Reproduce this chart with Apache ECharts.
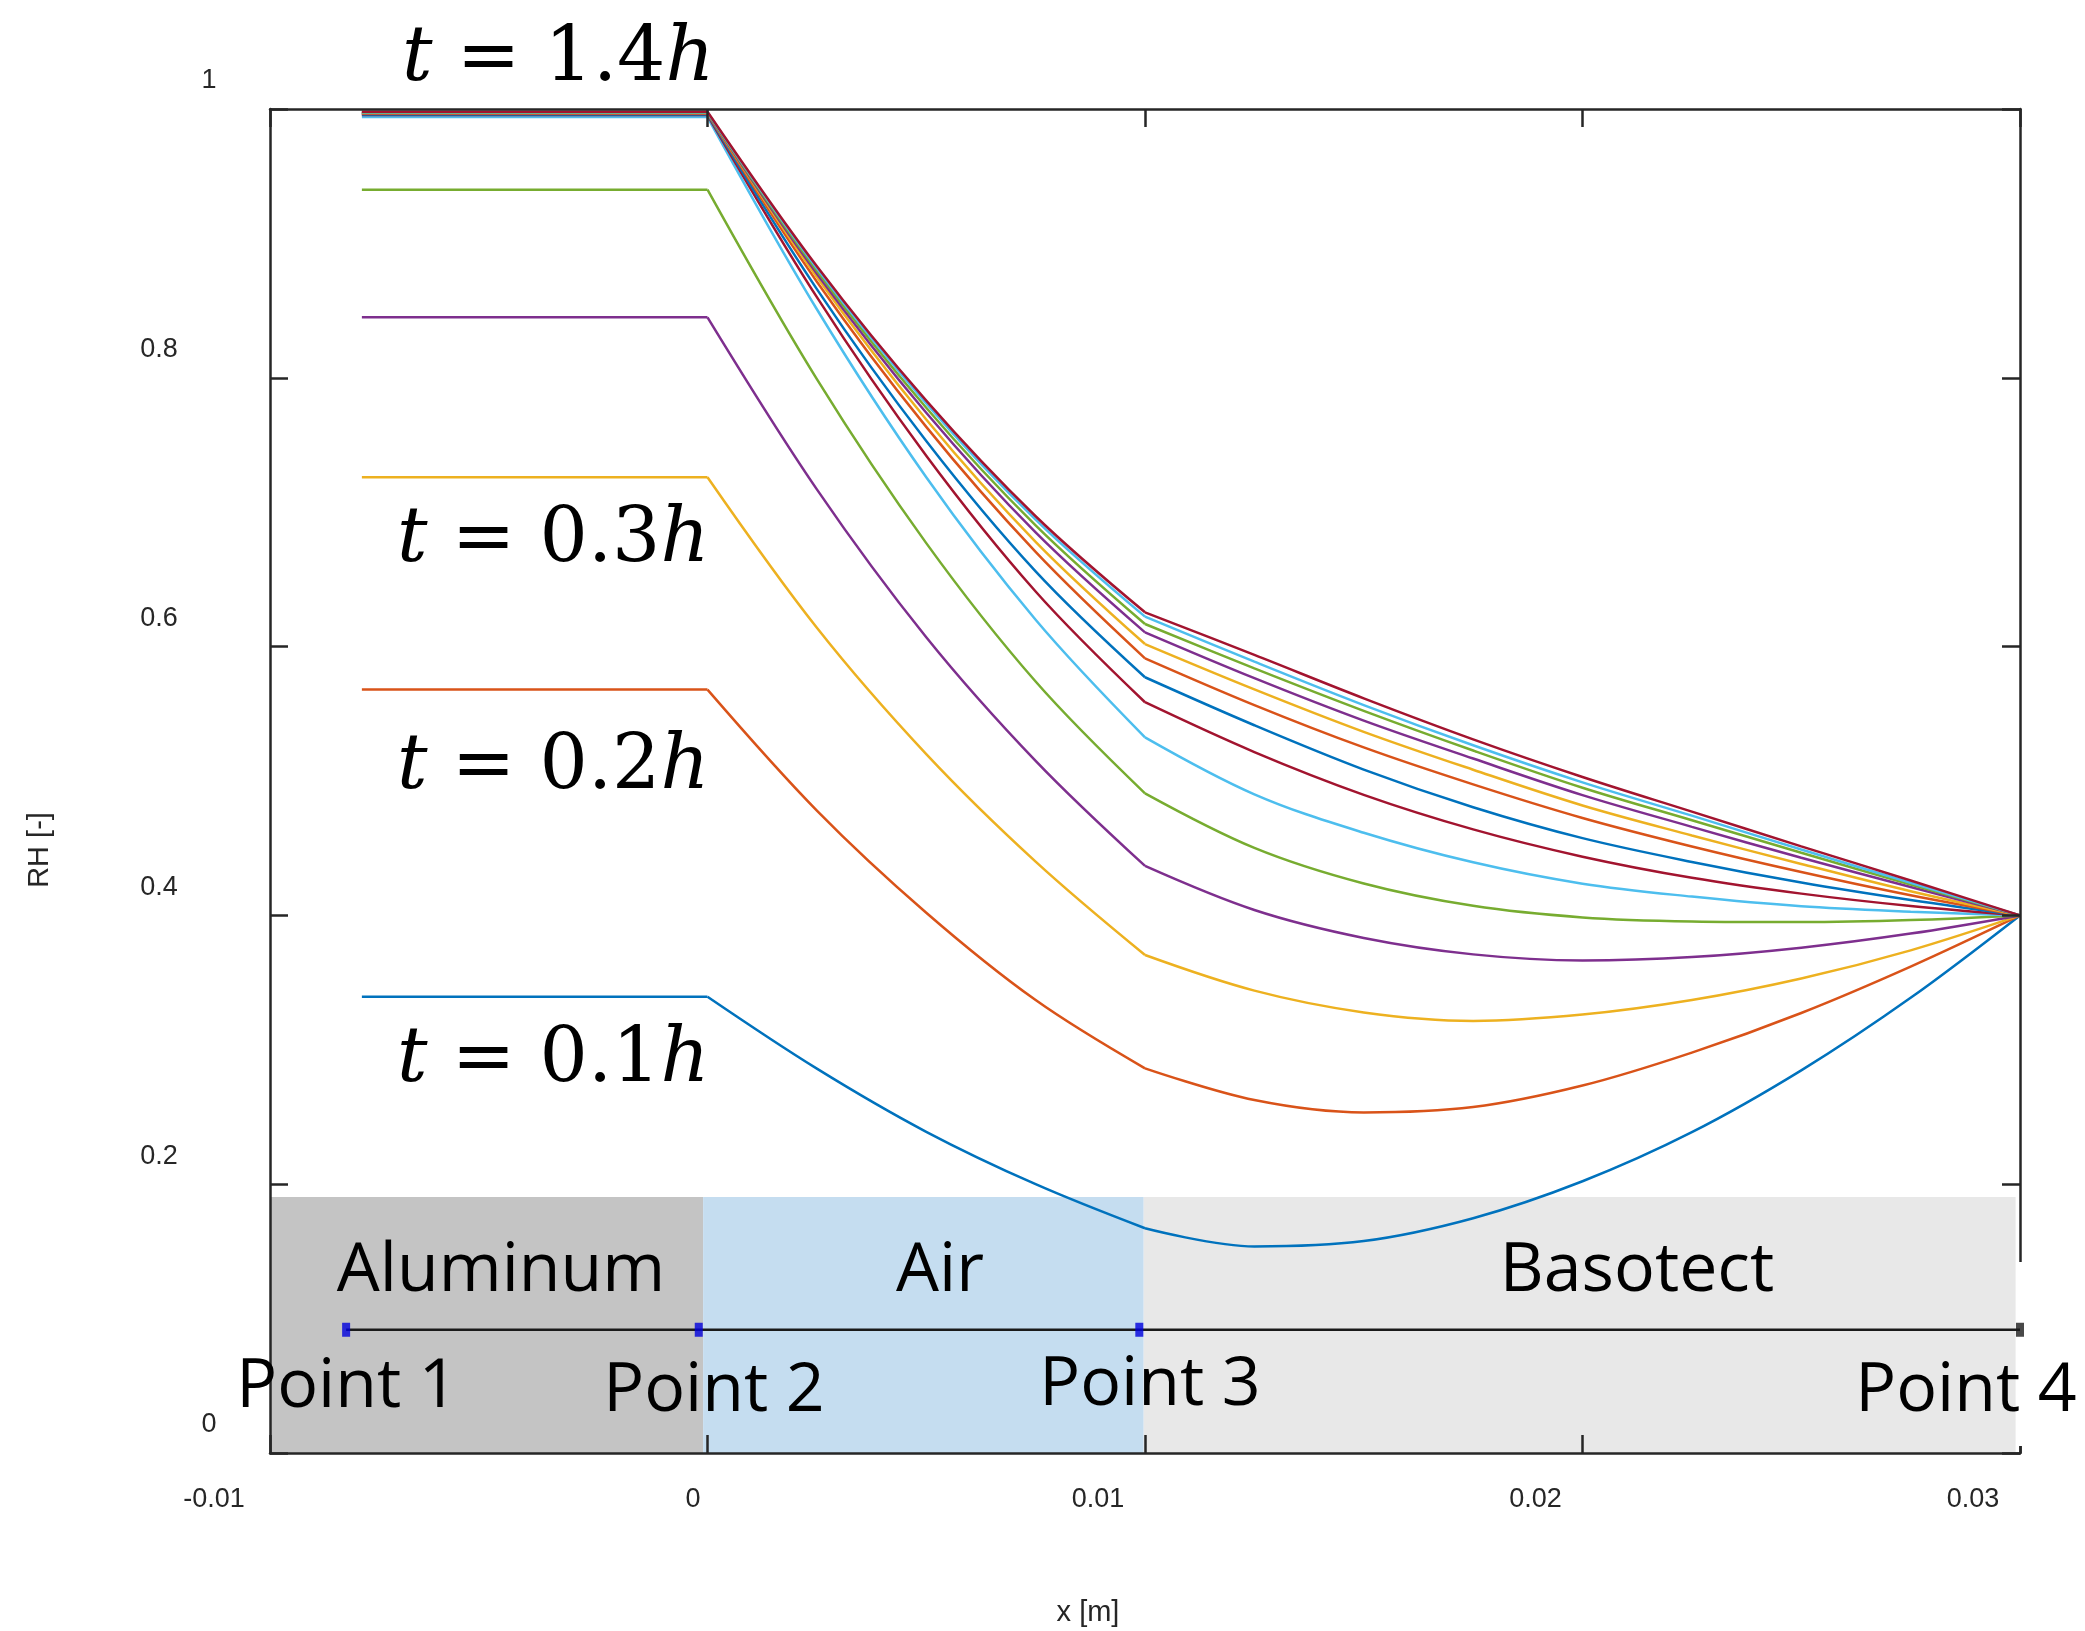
<!DOCTYPE html>
<html>
<head>
<meta charset="utf-8">
<script src="https://cdn.jsdelivr.net/npm/echarts@6/dist/echarts.min.js"></script>
<style>
  html, body { margin: 0; padding: 0; background: #fff; }
  #chart { width: 2085px; height: 1631px; }
</style>
</head>
<body>
<div id="chart"></div>
<script>
// time steps, one curve each
const times = ['0.1h', '0.2h', '0.3h', '0.4h', '0.5h', '0.6h', '0.7h',
               '0.8h', '0.9h', '1.0h', '1.1h', '1.2h', '1.3h', '1.4h'];
const lineColors = ['#0072BD', '#D95319', '#EDB120', '#7E2F8E', '#77AC30', '#4DBEEE', '#A2142F'];

// x positions [m]
const plateauX = [-0.0079, 0];
const airX = [0, 0.0025, 0.005, 0.0075, 0.01];
const basotectX = [0.01, 0.0125, 0.015, 0.0175, 0.02, 0.0225, 0.025, 0.0275, 0.03];

// RH in the air gap (first value is also the aluminum plateau)
const airRH = [
  [0.3395, 0.286, 0.239, 0.200, 0.1672],     // 0.1h
  [0.568, 0.478, 0.402, 0.337, 0.2862],      // 0.2h
  [0.726, 0.614, 0.520, 0.440, 0.3705],      // 0.3h
  [0.845, 0.717, 0.607, 0.515, 0.4368],      // 0.4h
  [0.940, 0.799, 0.677, 0.574, 0.4908],      // 0.5h
  [0.994, 0.851, 0.726, 0.620, 0.5325],      // 0.6h
  [0.9955, 0.860, 0.742, 0.641, 0.5586],     // 0.7h
  [0.996, 0.866, 0.753, 0.656, 0.5772],      // 0.8h
  [0.9965, 0.8715, 0.7635, 0.6705, 0.5913],  // 0.9h
  [0.997, 0.875, 0.769, 0.678, 0.6019],      // 1.0h
  [0.997, 0.8775, 0.774, 0.685, 0.6106],     // 1.1h
  [0.9972, 0.8797, 0.7777, 0.6902, 0.6168],  // 1.2h
  [0.9975, 0.8815, 0.781, 0.6945, 0.6223],   // 1.3h
  [0.998, 0.883, 0.783, 0.697, 0.6255]       // 1.4h
];

// RH in the basotect layer
const basotectRH = [
  [0.1672, 0.1537, 0.1577, 0.1747, 0.2022, 0.2387, 0.2847, 0.3387, 0.400],
  [0.2862, 0.2626, 0.2534, 0.2574, 0.2734, 0.2979, 0.3274, 0.3619, 0.400],
  [0.3705, 0.3440, 0.3278, 0.3215, 0.3262, 0.3370, 0.3530, 0.3740, 0.400],
  [0.4368, 0.4040, 0.3832, 0.3710, 0.3665, 0.3690, 0.3760, 0.3865, 0.400],
  [0.4908, 0.4502, 0.4237, 0.4071, 0.3985, 0.3955, 0.3950, 0.3965, 0.400],
  [0.5325, 0.4901, 0.4615, 0.4395, 0.4236, 0.4140, 0.4068, 0.4028, 0.400],
  [0.5586, 0.5215, 0.4897, 0.4640, 0.4437, 0.4280, 0.4162, 0.4070, 0.400],
  [0.5772, 0.5415, 0.5085, 0.4805, 0.4575, 0.4398, 0.4245, 0.4115, 0.400],
  [0.5913, 0.5565, 0.5250, 0.4975, 0.4725, 0.4513, 0.4323, 0.4150, 0.400],
  [0.6019, 0.5682, 0.5366, 0.5084, 0.4818, 0.4595, 0.4383, 0.4180, 0.400],
  [0.6106, 0.5765, 0.5449, 0.5167, 0.4895, 0.4659, 0.4429, 0.4211, 0.400],
  [0.6168, 0.5838, 0.5522, 0.5227, 0.4950, 0.4708, 0.4466, 0.4230, 0.400],
  [0.6223, 0.5888, 0.5565, 0.5266, 0.4990, 0.4742, 0.4490, 0.4243, 0.400],
  [0.6255, 0.5938, 0.5615, 0.5310, 0.5030, 0.4772, 0.4514, 0.4260, 0.400]
];

// material layers (shaded band at the bottom)
const layerNames = ['Aluminum', 'Air', 'Basotect'];
const layerEdges = [-0.01, -0.0001, 0.00997, 0.0299];
const layerColors = ['#c4c4c4', '#c5ddf0', '#e8e8e8'];
const bandY = [-0.0045, 0.1905];

// probe points
const pointNames = ['Point 1', 'Point 2', 'Point 3', 'Point 4'];
const pointX = [-0.00826, -0.0002, 0.00987, 0.030];
const pointY = 0.0917;

// axis ticks
const xMin = -0.01, xMax = 0.03, xStep = 0.01;
const yMin = 0, yMax = 1, yStep = 0.2;

const axisColor = '#262626';
const tickFont = 'Liberation Sans, Arial, sans-serif';

const chart = echarts.init(document.getElementById('chart'));

function fmt(v) { return String(+v.toFixed(2)); }

function frameAxis(extra) {
  return Object.assign({
    type: 'value',
    gridIndex: 0,
    axisLine: { show: true, onZero: false, lineStyle: { color: axisColor, width: 2.5 } },
    axisTick: { show: true, inside: true, length: 18, lineStyle: { color: axisColor, width: 2.5 } },
    axisLabel: { show: false },
    splitLine: { show: false },
    z: 5
  }, extra);
}

const labelStyle = { fontSize: 27, fontFamily: tickFont, color: axisColor };

const series = [];

// shaded layers + air boundary stripe
series.push({
  type: 'line',
  xAxisIndex: 0, yAxisIndex: 0,
  data: [],
  clip: false,
  z: 1,
  silent: true,
  markArea: {
    silent: true,
    data: layerNames.map((n, i) => [
      { xAxis: layerEdges[i], yAxis: bandY[0], itemStyle: { color: layerColors[i], opacity: 1 } },
      { xAxis: layerEdges[i + 1], yAxis: bandY[1] }
    ])
  },
  markLine: {
    silent: true,
    symbol: 'none',
    label: { show: false },
    lineStyle: { color: '#9eb4c6', width: 3, type: 'solid' },
    data: [[{ coord: [layerEdges[1], bandY[0]] }, { coord: [layerEdges[1], bandY[1]] }]]
  }
});

// probe line and markers
series.push({
  type: 'line',
  xAxisIndex: 0, yAxisIndex: 0,
  data: [[pointX[0], pointY], [pointX[3], pointY]],
  symbol: 'none',
  lineStyle: { color: '#1a1a1a', width: 2.5 },
  z: 7,
  silent: true
});
series.push({
  type: 'scatter',
  xAxisIndex: 0, yAxisIndex: 0,
  data: pointX.map((x, i) => ({
    value: [x, pointY],
    itemStyle: { color: i < 3 ? '#0000dd' : '#1a1a1a' }
  })),
  symbol: 'rect',
  symbolSize: [8, 14],
  z: 8,
  silent: true
});

// RH profiles: plateau, air and basotect parts drawn separately to keep the kinks
times.forEach((t, i) => {
  const color = lineColors[i % lineColors.length];
  const base = {
    type: 'line',
    name: 't = ' + t,
    xAxisIndex: 0, yAxisIndex: 0,
    symbol: 'none',
    z: 3,
    silent: true,
    lineStyle: { color: color, width: 2.5 },
    itemStyle: { color: color }
  };
  series.push(Object.assign({}, base, { data: plateauX.map(x => [x, airRH[i][0]]) }));
  series.push(Object.assign({}, base, { smooth: 0.35, data: airX.map((x, j) => [x, airRH[i][j]]) }));
  series.push(Object.assign({}, base, { smooth: 0.35, data: basotectX.map((x, j) => [x, basotectRH[i][j]]) }));
});

const mathFont = 'DejaVu Serif, serif';
const sansFont = 'Open Sans, Noto Sans, sans-serif';

function mathLabel(num, x, y) {
  return {
    type: 'text', x: x, y: y, z: 10,
    style: {
      text: '{i|t} = ' + num + '{i|h}',
      fontFamily: mathFont, fontSize: 76, fill: '#000',
      textAlign: 'left', textVerticalAlign: 'middle',
      rich: { i: { fontFamily: mathFont, fontSize: 76, fontStyle: 'italic', fill: '#000' } }
    }
  };
}

function sansLabel(txt, x, y) {
  return {
    type: 'text', x: x, y: y, z: 10,
    style: {
      text: txt, fontFamily: sansFont, fontSize: 68, fill: '#000',
      textAlign: 'center', textVerticalAlign: 'middle'
    }
  };
}

const option = {
  backgroundColor: '#fff',
  animation: false,
  grid: [
    { left: 270, top: 109, width: 1750, height: 1344 },
    { left: 223, top: 81, width: 1750, height: 1344 }
  ],
  xAxis: [
    frameAxis({ position: 'bottom', min: xMin, max: xMax, interval: xStep }),
    frameAxis({ position: 'top', min: xMin, max: xMax, interval: xStep }),
    {
      type: 'value', gridIndex: 1, position: 'bottom',
      min: xMin, max: xMax, interval: xStep,
      axisLine: { show: false, onZero: false }, axisTick: { show: false }, splitLine: { show: false },
      axisLabel: Object.assign({
        show: true, margin: 61, showMinLabel: true, showMaxLabel: true,
        formatter: v => {
          const s = fmt(v);
          if (s === '0') return '{zero|0}';
          if (s === '-0.01') return '{neg|-0.01}';
          return s;
        },
        rich: {
          zero: Object.assign({ padding: [0, 0, 0, 65] }, labelStyle),
          neg: Object.assign({ padding: [0, 18, 0, 0] }, labelStyle)
        }
      }, labelStyle)
    }
  ],
  yAxis: [
    frameAxis({ position: 'left', min: yMin, max: yMax, interval: yStep }),
    frameAxis({ position: 'right', min: yMin, max: yMax, interval: yStep }),
    {
      type: 'value', gridIndex: 1, position: 'left',
      min: yMin, max: yMax, interval: yStep,
      axisLine: { show: false, onZero: false }, axisTick: { show: false }, splitLine: { show: false },
      axisLabel: Object.assign({
        show: true, margin: 64, align: 'center', showMinLabel: true, showMaxLabel: true,
        formatter: v => {
          const s = fmt(v);
          if (s === '0' || s === '1') return '{end|' + s + '}';
          return s;
        },
        rich: { end: Object.assign({ padding: [0, 0, 0, 100] }, labelStyle) }
      }, labelStyle)
    }
  ],
  graphic: [
    // the right frame edge is blanked next to the Point 4 label in the original
    {
      type: 'rect', z: 6,
      shape: { x: 2017, y: 1262, width: 12, height: 184 },
      style: { fill: '#fff' }
    },
    mathLabel('1.4', 402, 60),
    mathLabel('0.3', 397, 541),
    mathLabel('0.2', 397, 768),
    mathLabel('0.1', 397, 1061),
    sansLabel(layerNames[0], 501, 1272),
    sansLabel(layerNames[1], 940, 1272),
    sansLabel(layerNames[2], 1637, 1272),
    sansLabel(pointNames[0], 347, 1388),
    sansLabel(pointNames[1], 714, 1392),
    sansLabel(pointNames[2], 1150, 1386),
    sansLabel(pointNames[3], 1966, 1392),
    {
      type: 'text', x: 40, y: 850, rotation: Math.PI / 2,
      style: { text: 'RH [-]', fontFamily: tickFont, fontSize: 29, fill: axisColor,
               textAlign: 'center', textVerticalAlign: 'middle' }
    },
    {
      type: 'text', x: 1088, y: 1613,
      style: { text: 'x [m]', fontFamily: tickFont, fontSize: 29, fill: axisColor,
               textAlign: 'center', textVerticalAlign: 'middle' }
    }
  ],
  series: series
};

chart.setOption(option);
window.addEventListener('resize', () => chart.resize());
</script>
</body>
</html>
